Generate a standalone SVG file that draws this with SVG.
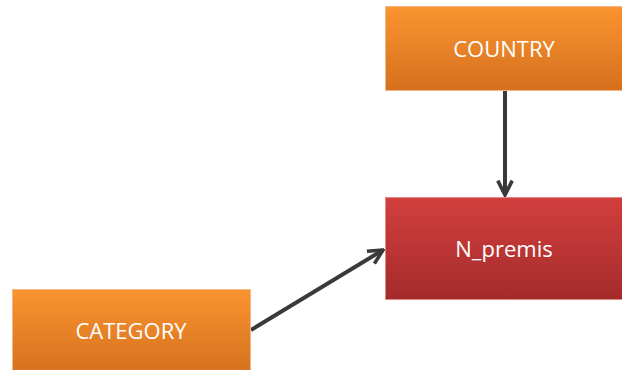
<svg xmlns="http://www.w3.org/2000/svg" width="622" height="370" viewBox="0 0 622 370">
<defs>
<linearGradient id="gOrange" x1="0" y1="0" x2="0" y2="1">
<stop offset="0" stop-color="#FA9430"/>
<stop offset="1" stop-color="#D6701E"/>
</linearGradient>
<linearGradient id="gRed" x1="0" y1="0" x2="0" y2="1">
<stop offset="0" stop-color="#D23F3D"/>
<stop offset="1" stop-color="#A42B2B"/>
</linearGradient>
<marker id="arrow" viewBox="0 0 10 10" refX="9" refY="5" markerWidth="4.5" markerHeight="4.5" orient="auto" markerUnits="strokeWidth">
<path d="M1,1 L9,5 L1,9" fill="none" stroke="#3a3a3a" stroke-width="2"/>
</marker>
</defs>
<style>
.orange{fill:url(#gOrange);stroke:#F3B783;stroke-width:1}
.red{fill:url(#gRed);stroke:#DD8A88;stroke-width:1}
.lbl{font-family:"Open Sans","Liberation Sans",sans-serif;font-size:22px;fill:#ffffff;text-anchor:middle;dominant-baseline:central}
.conn{stroke:#3a3a3a;stroke-width:4;fill:none;marker-end:url(#arrow)}
</style>
<rect width="622" height="370" fill="#ffffff"/>
<g id="connectors">
<line class="conn" x1="505" y1="90" x2="505" y2="195"/>
<line class="conn" x1="251" y1="330" x2="383" y2="250"/>
</g>
<g id="country">
<rect class="orange" x="385.5" y="6.5" width="240" height="84"/>
<text class="lbl" x="504" y="48">COUNTRY</text>
</g>
<g id="n_premis">
<rect class="red" x="385.5" y="197.5" width="240" height="102"/>
<text class="lbl" x="504" y="248">N_premis</text>
</g>
<g id="category">
<rect class="orange" x="12.5" y="289.5" width="238" height="84"/>
<text class="lbl" x="131" y="330">CATEGORY</text>
</g>
</svg>
